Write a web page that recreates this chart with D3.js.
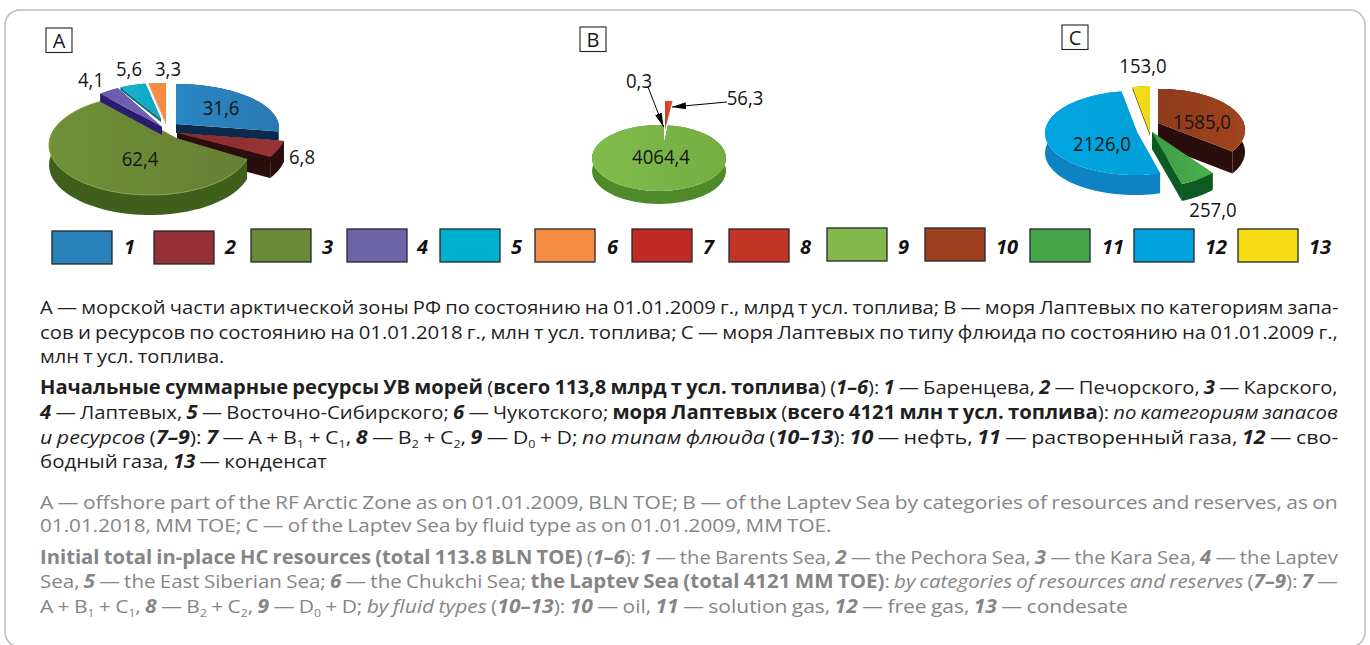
<!DOCTYPE html>
<html lang="ru">
<head>
<meta charset="utf-8">
<title>Начальные суммарные ресурсы УВ</title>
<script src="https://cdn.jsdelivr.net/npm/d3@7"></script>
<style>
  html, body { margin: 0; padding: 0; background: #fff; }
  svg { display: block; }
  text { font-family: "Open Sans", "Noto Sans", sans-serif; }
</style>
</head>
<body>
<svg id="chart" width="1370" height="645"></svg>
<script>
// Series values
const seaResources = [31.6, 6.8, 62.4, 4.1, 5.6, 3.3];
const seaLabels = ["31,6", "6,8", "62,4", "4,1", "5,6", "3,3"];
const laptevCategories = [0.3, 56.3, 4064.4];
const categoryLabels = ["0,3", "56,3", "4064,4"];
const laptevFluids = [1585.0, 257.0, 2126.0, 153.0];
const fluidLabels = ["1585,0", "257,0", "2126,0", "153,0"];
const legendKeys = ["1","2","3","4","5","6","7","8","9","10","11","12","13"];
const legendColors = ["#2a80b9","#953135","#6a8a3a","#6d64a8","#00b0cf","#f68c43","#c02a25","#c23526","#84b84c","#9d4020","#46a64a","#00a3dd","#f7dc14"];

// Inline markup: ***bold italic***, **bold**, *italic*, ~x~ subscript
const russianCaption = [
  "А — морской части арктической зоны РФ по состоянию на 01.01.2009 г., млрд т усл. топлива; В — моря Лаптевых по категориям запа-",
  "сов и ресурсов по состоянию на 01.01.2018 г., млн т усл. топлива; С — моря Лаптевых по типу флюида по состоянию на 01.01.2009 г.,",
  "млн т усл. топлива.",
  "**Начальные суммарные ресурсы УВ морей** (**всего 113,8 млрд т усл. топлива**) (***1–6***): ***1*** — Баренцева, ***2*** — Печорского, ***3*** — Карского,",
  "***4*** — Лаптевых, ***5*** — Восточно-Сибирского; ***6*** — Чукотского; **моря Лаптевых** (**всего 4121 млн т усл. топлива**): *по категориям запасов*",
  "*и ресурсов* (***7–9***): ***7*** — A + B~1~ + C~1~, ***8*** — B~2~ + C~2~, ***9*** — D~0~ + D; *по типам флюида* (***10–13***): ***10*** — нефть, ***11*** — растворенный газа, ***12*** — сво-",
  "бодный газа, ***13*** — конденсат"
];
const englishCaption = [
  "A — offshore part of the RF Arctic Zone as on 01.01.2009, BLN TOE; B — of the Laptev Sea by categories of resources and reserves, as on",
  "01.01.2018, MM TOE; C — of the Laptev Sea by fluid type as on 01.01.2009, MM TOE.",
  "**Initial total in-place HC resources (total 113.8 BLN TOE)** (***1–6***): ***1*** — the Barents Sea, ***2*** — the Pechora Sea, ***3*** — the Kara Sea, ***4*** — the Laptev",
  "Sea, ***5*** — the East Siberian Sea; ***6*** — the Chukchi Sea; **the Laptev Sea (total 4121 MM TOE)**: *by categories of resources and reserves* (***7–9***): ***7*** —",
  "A + B~1~ + C~1~, ***8*** — B~2~ + C~2~, ***9*** — D~0~ + D; *by fluid types* (***10–13***): ***10*** — oil, ***11*** — solution gas, ***12*** — free gas, ***13*** — condesate"
];

// Layout of the legend, captions and the hand-tilted pies
const legendBoxes = [[52,231],[154,231],[251,229],[347,229],[440,229],[535,229],[632,229],[729,229],[827,228],[925,228],[1030,229],[1134,229],[1238,229]];
const legendKeyX = [124,225,322,417,511,607,703,800,898,996,1102,1205,1309];
const russianLines = [[314,1339],[339,1339],[363,224.5],[394,1339],[419,1339],[444,1339],[468,327]];
const englishLines = [[509,1339],[532,832],[564,1339],[588,1339],[613,1128]];

const pieA = {
  label: "A", box: [46, 28], values: seaResources, labels: seaLabels,
  labelPos: [[221,108],[302,157],[140,159],[91,80],[129,69],[168,69]],
  order: [0, 1, 2, 4, 5, 3],
  slices: [
    { apex:[176,124], centre:[176,128], rx:103, ry:44, squash:.42, depth:9,  top:["#2b86c4","#2a78b2"], wall:"#0d2f55", cut:"#0b2a4e" },
    { apex:[177,133], centre:[177,131], rx:109, ry:50, squash:.42, depth:21, top:["#8a2b30","#9a3236"], wall:"#2a0a0f", cut:"#2a0a0f" },
    { apex:[176,138], centre:[150,145], rx:101, ry:50, squash:.48, depth:20, top:["#6f9038","#667f33"], wall:"#3f5f1a", cut:"#3f5f1a", rimLight:"#86a545" },
    { apex:[162,127], centre:[162,127], rx:94,  ry:44, squash:.47, depth:8,  top:["#6a5aac","#7464b4"], wall:"#2b1f6e", cut:"#2b1f6e" },
    { apex:[161,119], centre:[161,119], rx:85,  ry:36, squash:.42, depth:3,  top:["#14b2cc","#0ea8c4"], wall:"#0b6f85", cut:"#0b6f85" },
    { apex:[166,123], centre:[166,123], rx:95,  ry:40, squash:.42, depth:1,  top:["#f59045","#f58a3f"], wall:"#a85a20", cut:"#a85a20" }
  ]
};
const pieB = {
  label: "B", box: [580, 27], values: laptevCategories, labels: categoryLabels,
  labelPos: [[639,81],[745,98],[661,157]],
  order: [2, 0, 1],
  slices: [
    { apex:[665,130], centre:[665,130], rx:87,  ry:29, squash:.33, depth:0,  top:["#c02a25","#c02a25"], wall:"#c02a25", cut:"#c02a25" },
    { apex:[665,130], centre:[665,130], rx:87,  ry:29, squash:.33, depth:0,  top:["#c83d22","#e25a34"], wall:"#c83d22", cut:"#c83d22" },
    { apex:[664,143], centre:[659,158], rx:67,  ry:33, squash:.4,  depth:13, top:["#80bb4c","#74ae42"], wall:"#4f8a2c", cut:"#4f8a2c" }
  ]
};
const pieC = {
  label: "C", box: [1062, 25], values: laptevFluids, labels: fluidLabels,
  labelPos: [[1202,122],[1213,210],[1102,144],[1143,66]],
  order: [0, 3, 2, 1],
  slices: [
    { apex:[1158,123], centre:[1160,130], rx:85, ry:41, squash:.34, depth:22, top:["#8f3a1c","#a24420"], wall:"#2b0d07", cut:"#2b0d07" },
    { apex:[1152,132], centre:[1152,132], rx:91, ry:55, squash:.6,  depth:17, top:["#3f9d45","#4aae4e"], wall:"#0f5a22", cut:"#0f5a22" },
    { apex:[1137,132], centre:[1135,133], rx:90, ry:42, squash:.62, depth:20, top:["#00a6e0","#04a0da"], wall:"#0a83c4", cut:"#0978b4" },
    { apex:[1150,133], centre:[1150,133], rx:74, ry:47, squash:.63, depth:3,  top:["#f7dc14","#f3d812"], wall:"#6b6a10", cut:"#6b6a10" }
  ]
};

const svg = d3.select("#chart");
const defs = svg.append("defs");

defs.append("filter").attr("id", "soft")
  .attr("x", "-5%").attr("y", "-5%").attr("width", "110%").attr("height", "110%")
  .append("feGaussianBlur").attr("stdDeviation", 0.55);
defs.append("marker").attr("id", "head")
  .attr("viewBox", "0 0 14 7").attr("refX", 14).attr("refY", 3.5)
  .attr("markerUnits", "userSpaceOnUse").attr("markerWidth", 14).attr("markerHeight", 7)
  .attr("orient", "auto")
  .append("path").attr("d", "M0,0L14,3.5L0,7Z").attr("fill", "#000");

// Panel frame
svg.append("rect")
  .attr("x", 5).attr("y", 10).attr("width", 1360).attr("height", 637)
  .attr("rx", 15).attr("ry", 15)
  .attr("fill", "#fff").attr("stroke", "#bdbdbd").attr("stroke-width", 1.5);

const toPath = d3.line();
const pieLayout = d3.pie().sort(null).startAngle(0).endAngle(2 * Math.PI);
let gradientCount = 0;

function horizontalGradient(stops) {
  const id = "shade" + (++gradientCount);
  defs.append("linearGradient").attr("id", id)
    .selectAll("stop").data(stops).join("stop")
    .attr("offset", (d, i) => i / (stops.length - 1))
    .attr("stop-color", d => d);
  return "url(#" + id + ")";
}

// A ray leaving the apex at pie angle a, flattened by the slice's tilt, ends on the rim ellipse
function rimPoint(s, a) {
  const dx = Math.sin(a), dy = -Math.cos(a) * s.squash;
  const ox = s.apex[0] - s.centre[0], oy = s.apex[1] - s.centre[1];
  const A = dx * dx / (s.rx * s.rx) + dy * dy / (s.ry * s.ry);
  const B = 2 * (ox * dx / (s.rx * s.rx) + oy * dy / (s.ry * s.ry));
  const C = ox * ox / (s.rx * s.rx) + oy * oy / (s.ry * s.ry) - 1;
  const t = (-B + Math.sqrt(Math.max(0, B * B - 4 * A * C))) / (2 * A);
  return [s.apex[0] + dx * t, s.apex[1] + dy * t];
}

function drawPie(p) {
  const arcs = pieLayout(p.values);
  const g = svg.append("g").attr("filter", "url(#soft)");

  p.order.forEach(i => {
    const s = p.slices[i], arc = arcs[i];
    const steps = d3.range(0, 61).map(k => arc.startAngle + (arc.endAngle - arc.startAngle) * k / 60);
    const rim = steps.map(a => rimPoint(s, a));
    const drop = pt => [pt[0], pt[1] + s.depth];
    const first = rim[0], last = rim[rim.length - 1];

    // Cut faces, outer wall, then the top of the slice
    [first, last].forEach(edge => {
      g.append("path")
        .attr("d", toPath([s.apex, edge, drop(edge), drop(s.apex)]) + "Z")
        .attr("fill", s.cut);
    });
    if (s.depth > 0) {
      g.append("path")
        .attr("d", toPath(rim.concat(rim.map(drop).reverse())) + "Z")
        .attr("fill", s.wall);
    }
    g.append("path")
      .attr("d", toPath([s.apex].concat(rim)) + "Z")
      .attr("fill", horizontalGradient(s.top));
    if (s.rimLight) {
      g.append("path")
        .attr("d", toPath(rim)).attr("fill", "none")
        .attr("stroke", s.rimLight).attr("stroke-width", 1);
    }
  });

  // Panel letter
  svg.append("rect")
    .attr("x", p.box[0]).attr("y", p.box[1]).attr("width", 26).attr("height", 24.5)
    .attr("fill", "#fff").attr("stroke", "#222").attr("stroke-width", 1.1);
  svg.append("text")
    .attr("x", p.box[0] + 13).attr("y", p.box[1] + 19.5)
    .attr("text-anchor", "middle").attr("font-size", 20).attr("fill", "#1a1a1a")
    .text(p.label);

  // Value labels, slightly narrowed around their centres
  svg.append("g").selectAll("text").data(p.labels).join("text")
    .attr("transform", (d, i) => "translate(" + p.labelPos[i][0] + "," + (p.labelPos[i][1] + 7) + ") scale(.93,1)")
    .attr("text-anchor", "middle").attr("font-size", 20).attr("fill", "#151515")
    .text(d => d);
}

[pieA, pieB, pieC].forEach(drawPie);

// Leader arrows for the two thin slices of the middle pie
const leaders = [
  [[648, 87], [663.5, 127]],
  [[727, 102], [672, 107]]
];
svg.append("g").selectAll("path").data(leaders).join("path")
  .attr("d", d => toPath(d))
  .attr("stroke", "#000").attr("stroke-width", 1).attr("fill", "none")
  .attr("marker-end", "url(#head)");

// Legend
const legend = svg.append("g");
legend.selectAll("rect").data(legendKeys).join("rect")
  .attr("x", (d, i) => legendBoxes[i][0])
  .attr("y", (d, i) => legendBoxes[i][1])
  .attr("width", 60).attr("height", 33)
  .attr("fill", (d, i) => legendColors[i])
  .attr("stroke", "#23272b").attr("stroke-width", 1.3);
legend.selectAll("text").data(legendKeys).join("text")
  .attr("x", (d, i) => legendKeyX[i])
  .attr("y", 254)
  .attr("font-size", 20).attr("font-weight", 700).attr("font-style", "italic")
  .attr("fill", "#111")
  .text(d => d);

// Captions: each line is a row of styled runs, squeezed to its measured width
function parseRuns(line) {
  return line.split(/(\*\*\*.+?\*\*\*|\*\*.+?\*\*|\*.+?\*|~.~)/).filter(Boolean).map(part => {
    if (part.startsWith("***")) return { t: part.slice(3, -3), b: true, i: true };
    if (part.startsWith("**")) return { t: part.slice(2, -2), b: true };
    if (part.startsWith("*")) return { t: part.slice(1, -1), i: true };
    if (part.startsWith("~")) return { t: part.slice(1, -1), sub: true };
    return { t: part };
  });
}

function drawCaption(lines, rows, fill) {
  lines.forEach((line, n) => {
    const [baseline, right] = rows[n];
    const text = svg.append("text").attr("font-size", 19).attr("fill", fill)
      .attr("word-spacing", -1).attr("xml:space", "preserve");
    let wasSub = false;
    parseRuns(line).forEach(r => {
      const span = text.append("tspan").text(r.t)
        .attr("font-weight", r.b ? 700 : 400)
        .attr("font-style", r.i ? "italic" : "normal")
        .attr("font-size", r.sub ? 11 : 19);
      if (r.sub) span.attr("dy", 4); else if (wasSub) span.attr("dy", -4);
      wasSub = !!r.sub;
    });
    const k = (right - 40) / text.node().getComputedTextLength();
    text.attr("transform", "translate(40," + baseline + ") scale(" + k + ",1)");
  });
}

drawCaption(russianCaption, russianLines, "#1f1f1f");
drawCaption(englishCaption, englishLines, "#858585");
</script>
</body>
</html>
